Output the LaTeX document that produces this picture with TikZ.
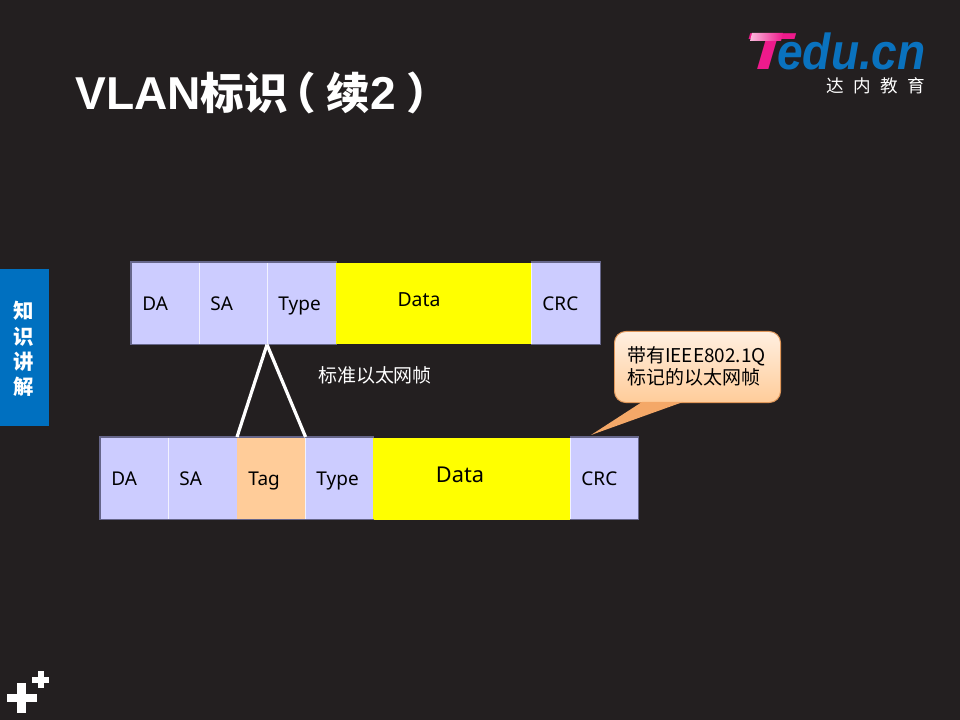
\documentclass[tikz,border=0pt]{standalone}
\usepackage{fontspec}
\setmainfont{Noto Sans}
\newfontfamily\cjkfont{Noto Sans CJK SC}
\newfontfamily\logofont{Liberation Sans}
\usepackage{tikz}
\definecolor{slidebg}{HTML}{231F20}
\definecolor{tabblue}{HTML}{0070C0}
\definecolor{celllilac}{HTML}{CCCCFF}
\definecolor{cellpeach}{HTML}{FFCC99}
\definecolor{cellyellow}{RGB}{255,255,0}
\definecolor{celledge}{HTML}{66668A}
\definecolor{noteedge}{HTML}{E0975A}
\definecolor{notetail}{HTML}{F4A868}
\definecolor{logopink}{HTML}{EE1A8C}
\definecolor{logoblue}{HTML}{0A72BE}
\tikzset{
  cell/.style={draw=white!75!celllilac,line width=0.4pt,fill=celllilac,text=black,minimum height=2.05cm,
    inner sep=0pt,inner xsep=0.28cm,text width=#1,text height=10pt,text depth=0.2pt,align=left,anchor=north west,
    font=\fontsize{13.5}{16}\selectfont},
  widecell/.style={fill=cellyellow,minimum height=2.03cm,inner sep=0pt,anchor=north west},
  framelabel/.style={text=black,inner sep=0pt},
  celloutline/.style={draw=celledge,line width=0.8pt},
  wedgeline/.style={draw=white,line width=2.3pt},
}
\begin{document}
\begin{tikzpicture}[x=0.025cm,y=-0.025cm]
\fill[slidebg] (0,0) rectangle (960,720);
\useasboundingbox (0,0) rectangle (960,720);

\node[font=\cjkfont\bfseries\fontsize{31}{33}\selectfont,text=white,anchor=base west,inner sep=0pt] (title) at (75,110)
  {{\logofont\fontsize{32.8}{33}\selectfont VLAN}标识\hspace{-0.345em}（\hspace{0.23em}续{\logofont\fontsize{32.8}{33}\selectfont 2}\hspace{0.25em}）};

\node[font=\logofont\bfseries\itshape\fontsize{37}{37}\selectfont,text=logopink,anchor=base west,inner sep=0pt,xscale=1.5,transform shape] (logot) at (743,70) {T};
\shade[left color=white!70!logopink,right color=logopink] (752,33) -- (783,33) -- (781,41) -- (750,41) -- cycle;
\node[font=\logofont\bfseries\itshape\fontsize{36}{36}\selectfont,text=logoblue,anchor=base west,inner sep=0pt,xscale=0.91,transform shape] (logoname) at (777,70) {edu.cn};
\node[font=\cjkfont\fontsize{12.5}{14}\selectfont,text=white,anchor=east,inner sep=0pt] (logocn) at (925,86) {达\hspace{0.52em}内\hspace{0.52em}教\hspace{0.52em}育};

\fill[tabblue] (0,269) rectangle (49,426);
\node[font=\cjkfont\bfseries\fontsize{14.5}{18}\selectfont,text=white,align=center,inner sep=0pt] (tabtext) at (24,349) {知\\识\\讲\\解};

\fill[white] (7,694) rectangle (37,702);
\fill[white] (17,683) rectangle (26,713);
\fill[white] (32,677) rectangle (49,683);
\fill[white] (38,671) rectangle (44,688);

% standard frame
\node[cell=1.14cm] (da) at (131,262) {DA};
\node[cell=1.14cm] (sa) at (199,262) {SA};
\node[cell=1.165cm] (type) at (267,262) {Type};
\node[widecell,minimum width=4.875cm] (data) at (336,263) {};
\node[cell=1.165cm] (crc) at (531,262) {CRC};
\draw[celloutline] (da.south west) -- (type.south east);
\draw[celloutline] (da.south west) |- (type.north east);
\draw[celloutline] (crc.north west) -| (crc.south east) -- (crc.south west);
\node[framelabel,font=\fontsize{13.8}{16}\selectfont] (datalabel) at (419,300) {Data};

\node[font=\cjkfont\fontsize{13.5}{16}\selectfont,text=white,inner sep=0pt] (plainname) at (375,375) {标准以太网帧};

% tagged frame
\node[cell=1.14cm] (tda) at (100,437) {DA};
\node[cell=1.165cm] (tsa) at (168,437) {SA};
\node[cell=1.14cm,fill=cellpeach,draw=cellpeach] (tag) at (237,437) {Tag};
\node[cell=1.14cm] (ttype) at (305,437) {Type};
\node[widecell,minimum width=4.925cm] (tdata) at (373,438) {};
\node[cell=1.14cm] (tcrc) at (570,437) {CRC};
\draw[celloutline] (tda.south west) -- (ttype.south east);
\draw[celloutline] (tda.south west) |- (ttype.north east);
\draw[celloutline] (tcrc.north west) -| (tcrc.south east) -- (tcrc.south west);
\node[framelabel,font=\fontsize{15.5}{18}\selectfont] (tdatalabel) at (460,475) {Data};

\draw[wedgeline] (type.south west) -- (tag.north west);
\draw[wedgeline] (type.south west) -- (tag.north east);

% note
\coordinate (notetip) at (591,435);
\node[draw=noteedge,line width=0.7pt,rounded corners=0.28cm,top color=white!70!cellpeach,bottom color=cellpeach,
  minimum width=4.15cm,minimum height=1.775cm,anchor=north west,inner sep=0pt] (note) at (614,331) {};
\fill[notetail] (642,402) -- (notetip) -- (683,402) -- cycle;
\node[font=\cjkfont\fontsize{13.5}{15.6}\selectfont,text=black,align=left,anchor=west,inner sep=0pt] (notetext) at (627,366) {带有IEEE802.1Q\\标记的以太网帧};
\end{tikzpicture}
\end{document}
